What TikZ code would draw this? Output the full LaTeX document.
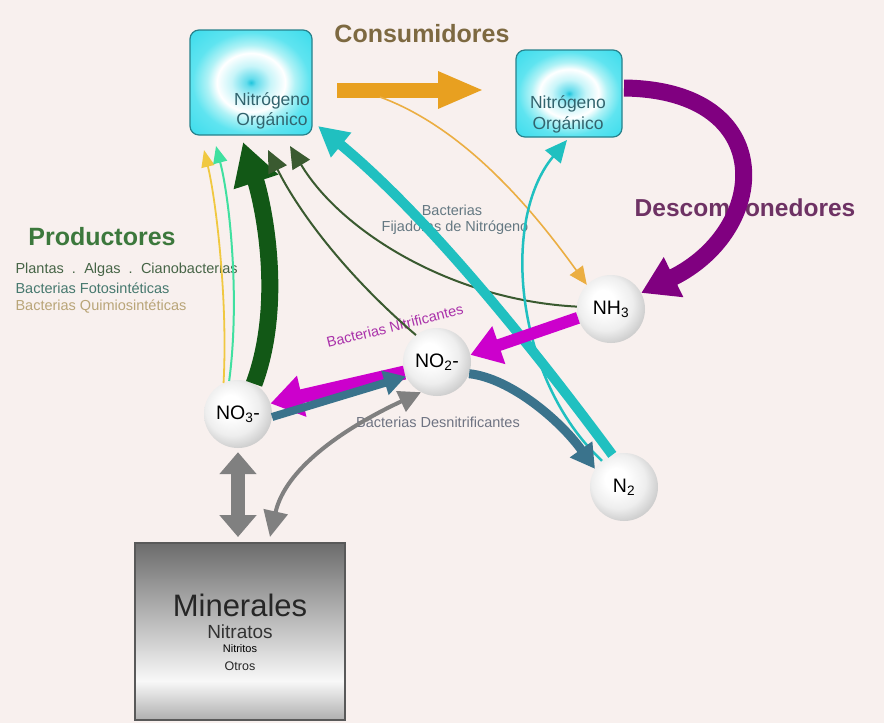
\documentclass[tikz,border=0pt]{standalone}
\usepackage{fontspec}
\setmainfont{Liberation Sans}
\usetikzlibrary{arrows.meta}
\definecolor{bg}{RGB}{248,240,238}
\definecolor{cyA}{RGB}{30,196,220}
\definecolor{cyB}{RGB}{100,220,236}
\definecolor{cyC}{RGB}{200,245,249}
\definecolor{cyD}{RGB}{175,242,246}
\definecolor{cyE}{RGB}{95,228,240}
\definecolor{cyF}{RGB}{60,220,236}
\definecolor{minT}{RGB}{108,108,108}
\definecolor{minW}{RGB}{248,248,248}
\definecolor{minB}{RGB}{175,175,175}
\definecolor{consC}{RGB}{125,105,65}
\definecolor{descC}{RGB}{110,50,100}
\definecolor{prodC}{RGB}{60,120,60}
\definecolor{plC}{RGB}{70,100,70}
\definecolor{fotC}{RGB}{70,120,110}
\definecolor{quiC}{RGB}{185,165,120}
\definecolor{boxT}{RGB}{50,100,110}
\definecolor{nitC}{RGB}{170,50,170}
\definecolor{desC}{RGB}{110,115,130}
\definecolor{fijC}{RGB}{100,120,130}
\definecolor{orA}{RGB}{232,160,32}
\definecolor{purA}{RGB}{128,0,128}
\definecolor{dkG}{RGB}{18,88,22}
\definecolor{thG}{RGB}{58,90,48}
\definecolor{mint}{RGB}{64,224,160}
\definecolor{yel}{RGB}{240,200,64}
\definecolor{cyT}{RGB}{32,192,192}
\definecolor{mag}{RGB}{204,0,204}
\definecolor{stb}{RGB}{58,115,140}
\definecolor{gry}{RGB}{128,128,128}
\definecolor{boxE}{RGB}{40,130,140}
\definecolor{sA}{RGB}{255,255,255}
\definecolor{sB}{RGB}{238,238,238}
\definecolor{sC}{RGB}{200,200,200}
\definecolor{sD}{RGB}{150,150,150}
\pgfdeclareradialshading{orgshade}{\pgfpoint{0bp}{0bp}}{color(0bp)=(cyA); color(2bp)=(cyB); color(8bp)=(cyC); color(14bp)=(white); color(18bp)=(cyD); color(24bp)=(cyE); color(35bp)=(cyF); color(50bp)=(cyF)}
\pgfdeclareradialshading{sphshade}{\pgfpoint{-7bp}{7bp}}{color(0bp)=(sA); color(8bp)=(sA); color(20bp)=(sB); color(30bp)=(sC); color(36bp)=(sD); color(50bp)=(sD)}
\pgfdeclareverticalshading{minshade}{100bp}{color(0bp)=(minB); color(25bp)=(minB); color(36bp)=(minW); color(75bp)=(minT); color(100bp)=(minT)}
\tikzset{
  sphere/.style={circle, minimum size=68pt, inner sep=0pt, shading=sphshade, font=\fontsize{19.5}{19.5}\selectfont},
  orgbox/.style={rounded corners=9pt, draw=boxE, line width=1.2pt, shading=orgshade, minimum width=#1},
  boxtext/.style={text=boxT, font=\fontsize{17.5}{17.5}\selectfont},
  head/.style={font=\bfseries\fontsize{25}{25}\selectfont},
  small/.style={font=\fontsize{14.5}{14.5}\selectfont},
}
\begin{document}
\begin{tikzpicture}[x=1pt,y=-1pt]
\fill[bg] (0,0) rectangle (884,723);
\useasboundingbox (0,0) rectangle (884,723);

% boxes
\node[orgbox=122pt, minimum height=105pt] (orgL) at (251,82.5) {};
\node[boxtext] (tL1) at (272,101) {Nitrógeno};
\node[boxtext] (tL2) at (272,121) {Orgánico};
\node[orgbox=106pt, minimum height=87pt] (orgR) at (569,93.5) {};
\node[boxtext] (tR1) at (568,104) {Nitrógeno};
\node[boxtext] (tR2) at (568,125) {Orgánico};

\node[draw=black!65, line width=1.2pt, shading=minshade, minimum width=210pt, minimum height=177pt, inner sep=0pt] (min) at (240,631.5) {};
\node[font=\fontsize{31}{31}\selectfont, text=black!85] (m1) at (240,605) {Minerales};
\node[font=\fontsize{19}{19}\selectfont, text=black!80] (m2) at (240,632) {Nitratos};
\node[font=\fontsize{11}{11}\selectfont, text=black] (m3) at (240,649) {Nitritos};
\node[font=\fontsize{12.5}{12.5}\selectfont, text=black!85] (m4) at (240,666) {Otros};

% labels
\node[head, text=consC] (cons) at (422,34) {Consumidores};
\node[head, text=descC, font=\bfseries\fontsize{24.5}{24.5}\selectfont] (desc) at (745,210) {Descomponedores};
\node[head, text=prodC] (prod) at (102,237) {Productores};
\node[small, text=plC, anchor=west] (pl) at (12,270) {Plantas\hspace{4pt} . \hspace{3pt}Algas\hspace{4pt} . \hspace{3pt}Cianobacterias};
\node[small, text=fotC, anchor=west] (fot) at (12,288) {Bacterias Fotosintéticas};
\node[small, text=quiC, anchor=west] (qui) at (12,307) {Bacterias Quimiosintéticas};
\node[small, text=fijC] (fij1) at (452,210) {Bacterias};
\node[small, text=fijC] (fij2) at (455,228) {Fijadoras de Nitrógeno};
\node[small, text=nitC, rotate=14] (nit) at (395,326) {Bacterias Nitrificantes};
\node[small, text=desC] (des) at (438,422) {Bacterias Desnitrificantes};

% spheres
\node[sphere] (nh3) at (611,309) {NH\textsubscript{3}};
\node[sphere] (no2) at (437,362) {NO\textsubscript{2}-};
\node[sphere] (no3) at (238,414) {NO\textsubscript{3}-};
\node[sphere] (n2) at (624,487) {N\textsubscript{2}};

% free ends
\coordinate (oS) at (337,90);
\coordinate (oE) at (484,90);
\coordinate (oc) at (380,97);
\coordinate (gT) at (243,142);
\coordinate (mT) at (216,146);
\coordinate (yT) at (204,150);
\coordinate (t1) at (290,146);
\coordinate (t2) at (268,150);
\coordinate (cyTip) at (318,126);
\coordinate (cyR) at (567,140);
\coordinate (purS) at (624,88);
\coordinate (grA) at (238,537);
\coordinate (grB) at (270,537);

% producers arrows
\draw[yel, line width=1.8pt, -{Triangle[width=13pt,length=17pt]}] (no3.115) .. controls (228,300) and (216,200) .. (yT);
\draw[mint, line width=2pt, -{Triangle[width=14pt,length=17pt]}] (no3.105) .. controls (240,300) and (230,200) .. (mT);
\draw[dkG, line width=17pt, -{Triangle[width=44pt,length=42pt]}] (no3.62) .. controls (285,300) and (262,200) .. (gT);
\draw[thG, line width=2pt, -{Triangle[width=20pt,length=22pt]}] (no2.128) .. controls (340,270) and (295,205) .. (t2);
\draw[thG, line width=2pt, -{Triangle[width=20pt,length=22pt]}] (nh3.176) .. controls (450,300) and (340,230) .. (t1);

% consumers
\draw[orA, line width=15pt, -{Triangle[width=34pt,length=46pt]}] (oS) -- (oE);
\draw[orA!85!white, line width=1.6pt, -{Triangle[width=16pt,length=18pt]}] (oc) .. controls (470,130) and (540,220) .. (nh3.135);

% decomposers
\draw[purA, line width=17pt, -{Triangle[width=42pt,length=36pt]}] (purS) .. controls (780,90) and (770,230) .. (nh3.28);

% nitrogen fixation
\draw[cyT, line width=2.5pt, -{Triangle[width=20pt,length=22pt]}] (n2.130) .. controls (515,380) and (500,220) .. (cyR);
\draw[cyT, line width=10pt, -{Triangle[width=30pt,length=30pt]}] (n2.110) .. controls (520,330) and (420,210) .. (cyTip);

% nitrification
\draw[mag, line width=12pt, -{Triangle[width=38pt,length=30pt]}] (nh3.195) -- (no2.12);
\draw[mag, line width=14pt, -{Triangle[width=40pt,length=32pt]}] (no2.198) -- (no3.18);

% denitrification
\draw[stb, line width=8pt, -{Triangle[width=24pt,length=22pt]}] (no3.-5) -- (no2.205);
\draw[stb, line width=9pt, -{Triangle[width=26pt,length=24pt]}] (no2.-20) .. controls (510,378) and (560,420) .. (n2.148);

% minerals exchange
\draw[gry, line width=14pt, {Triangle[width=36pt,length=22pt]}-{Triangle[width=36pt,length=22pt]}] (no3.south) ++(0,4) -- (grA);
\draw[gry, line width=4pt, {Triangle[width=22pt,length=22pt]}-{Triangle[width=24pt,length=26pt]}] (no2.-118) .. controls (340,430) and (285,470) .. (grB);
\end{tikzpicture}
\end{document}
